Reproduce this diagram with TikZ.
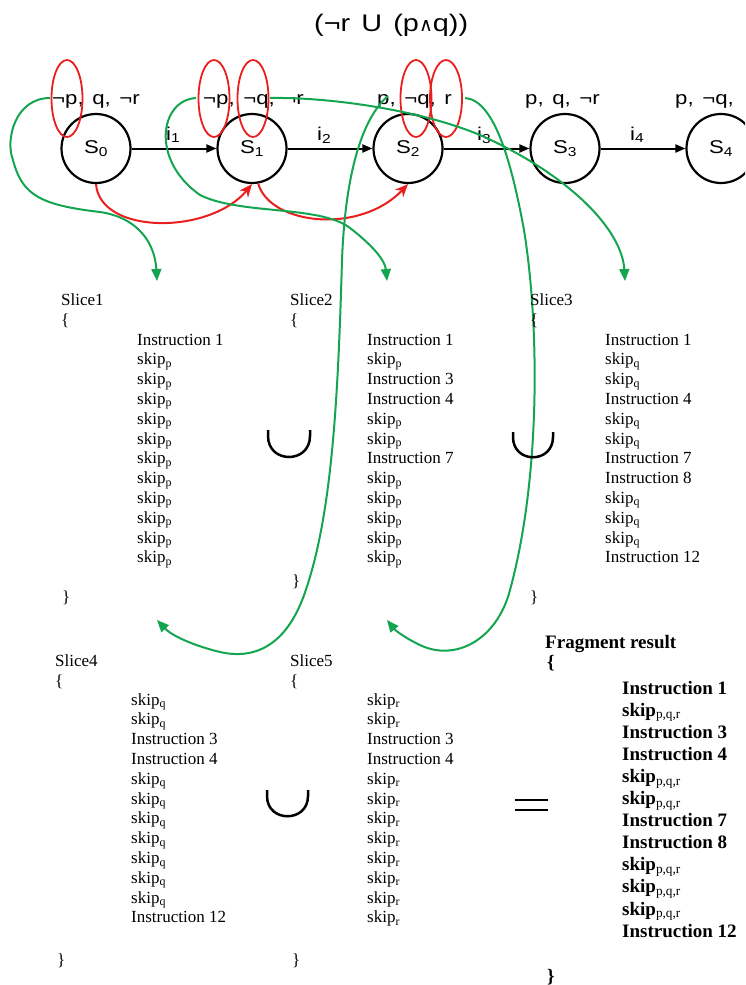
\documentclass[tikz,border=0pt]{standalone}
\usepackage{fontspec}
\usetikzlibrary{arrows.meta,shapes.geometric}
\newfontfamily\codefont{Liberation Serif}
\newfontfamily\labfont[FakeStretch=1.2,WordSpace=1.4]{Liberation Sans}
\newfontfamily\symfont[FakeStretch=1.0]{DejaVu Sans}
\definecolor{gr}{RGB}{20,165,80}
\definecolor{rd}{RGB}{235,30,30}
\newcommand{\skp}{skip\textsubscript{p}}
\newcommand{\skq}{skip\textsubscript{q}}
\newcommand{\skr}{skip\textsubscript{r}}
\newcommand{\skall}{skip\textsubscript{\mdseries p,q,r}}
\newcommand{\codecol}[6]{%
  \foreach \t [count=\i] in {#6} {
    \node[#5] (#1-\i) at (#2, {#3+(\i-1)*#4}) {\t};
  }%
}
\tikzset{
  state/.style={draw, circle, line width=2.2pt, minimum size=69pt, inner sep=0pt,
    font=\labfont\fontsize{18.5}{21}\selectfont},
  trans/.style={line width=2pt, -{Triangle[length=10pt,width=8pt]}},
  lab/.style={font=\labfont\fontsize{18.5}{21}\selectfont, anchor=base west, inner sep=0pt},
  oval/.style={draw=rd, ellipse, line width=1.8pt, minimum width=31pt, minimum height=77pt, inner sep=0pt},
  redarr/.style={draw=rd, line width=2pt, -{Stealth[length=13pt,width=11pt]}},
  grarr/.style={draw=gr, line width=2pt, -{Triangle[length=12pt,width=10pt]}},
  codetext/.style={font=\codefont\fontsize{17}{20}\selectfont, anchor=base west, inner sep=0pt},
  boldtext/.style={font=\codefont\bfseries\fontsize{19}{22}\selectfont, anchor=base west, inner sep=0pt},
  unionsym/.style={line width=2.5pt},
}
\begin{document}
\begin{tikzpicture}[x=1pt,y=-1pt]
\useasboundingbox (0,0) rectangle (745,985);
\clip (0,0) rectangle (745,985);
\fill[white] (0,0) rectangle (745,985);

% title
\node[lab, font=\labfont\fontsize{24}{27}\selectfont] (title) at (314,31)
  {(¬r U (p{\symfont\fontsize{19}{22}\selectfont ∧}q))};

% states
\node[state] (S0) at (96,148.5) {S\textsubscript{0}};
\node[state] (S1) at (252,148.5) {S\textsubscript{1}};
\node[state] (S2) at (408,148.5) {S\textsubscript{2}};
\node[state] (S3) at (565,148.5) {S\textsubscript{3}};
\node[state] (S4) at (721,148.5) {S\textsubscript{4}};

\draw[trans] (S0) -- (S1);
\draw[trans] (S1) -- (S2);
\draw[trans] (S2) -- (S3);
\draw[trans] (S3) -- (S4);

\node[lab] (i1) at (166,140) {i\textsubscript{1}};
\node[lab] (i2) at (317,140) {i\textsubscript{2}};
\node[lab] (i3) at (477,140) {i\textsubscript{3}};
\node[lab] (i4) at (630,140) {i\textsubscript{4}};

% proposition labels
\node[lab] (L0) at (52,104) {¬p, q, ¬r};
\node[lab] (L1) at (203,104) {¬p, ¬q, ¬r};
\node[lab] (L2) at (377,104) {p, ¬q, r};
\node[lab] (L3) at (525,104) {p, q, ¬r};
\node[lab] (L4) at (675,104) {p, ¬q,};

% red ovals
\node[oval] (E0) at (67,98.5) {};
\node[oval] (E1a) at (214,98.5) {};
\node[oval] (E1b) at (253,98.5) {};
\node[oval] (E2a) at (416,98.5) {};
\node[oval, minimum width=32pt] (E2b) at (446,98.5) {};

% red arrows
\draw[redarr] (S0.south) .. controls (100,235) and (210,235) .. (S1.south);
\draw[redarr] (S1.-80) .. controls (270,225) and (360,235) .. (S2.south);

% green arrow endpoints
\coordinate (g1s) at (50,98);
\coordinate (g2s) at (196,98);
\coordinate (g3s) at (270,98);
\coordinate (g4s) at (388,96);
\coordinate (g5s) at (465,98);
\coordinate (t1) at (157,281);
\coordinate (t2) at (387,281);
\coordinate (t3) at (625,281);
\coordinate (t4) at (157,620);
\coordinate (t5) at (387,620);

\draw[grarr] (g1s) .. controls (15,98) and (5,140) .. (13,160)
  .. controls (22,195) and (40,205) .. (100,212)
  .. controls (140,218) and (155,245) .. (t1);
\draw[grarr] (g2s) .. controls (160,100) and (150,160) .. (200,195)
  .. controls (240,215) and (320,205) .. (350,228)
  .. controls (372,245) and (385,260) .. (t2);
\draw[grarr] (g3s) .. controls (330,97) and (420,110) .. (480,135)
  .. controls (570,175) and (622,230) .. (t3);
\draw[grarr] (g4s) .. controls (360,120) and (345,180) .. (342,260)
  .. controls (338,400) and (332,520) .. (303,598)
  .. controls (285,645) and (255,660) .. (220,652)
  .. controls (195,646) and (172,636) .. (t4);
\draw[grarr] (g5s) .. controls (495,100) and (512,165) .. (524,230)
  .. controls (540,330) and (540,480) .. (510,590)
  .. controls (497,640) and (455,662) .. (420,645)
  .. controls (405,638) and (395,630) .. (t5);

% Slice 1
\node[codetext] (h1) at (61,305) {Slice1};
\node[codetext] (ob1) at (61,325) {\{};
\codecol{c1}{137}{345}{19.8}{codetext}{Instruction 1,\skp,\skp,\skp,\skp,\skp,\skp,\skp,\skp,\skp,\skp,\skp}
\node[codetext] (cb1) at (62,602) {\}};

% Slice 2
\node[codetext] (h2) at (290,305) {Slice2};
\node[codetext] (ob2) at (290,325) {\{};
\codecol{c2}{367}{345}{19.8}{codetext}{Instruction 1,\skp,Instruction 3,Instruction 4,\skp,\skp,Instruction 7,\skp,\skp,\skp,\skp,\skp}
\node[codetext] (cb2) at (292,586) {\}};

% Slice 3
\node[codetext] (h3) at (530,305) {Slice3};
\node[codetext] (ob3) at (530,325) {\{};
\codecol{c3}{605}{345}{19.8}{codetext}{Instruction 1,\skq,\skq,Instruction 4,\skq,\skq,Instruction 7,Instruction 8,\skq,\skq,\skq,Instruction 12}
\node[codetext] (cb3) at (530,602) {\}};

% Slice 4
\node[codetext] (h4) at (55,666) {Slice4};
\node[codetext] (ob4) at (55,686) {\{};
\codecol{c4}{131}{705}{19.8}{codetext}{\skq,\skq,Instruction 3,Instruction 4,\skq,\skq,\skq,\skq,\skq,\skq,\skq,Instruction 12}
\node[codetext] (cb4) at (57,965) {\}};

% Slice 5
\node[codetext] (h5) at (290,666) {Slice5};
\node[codetext] (ob5) at (290,686) {\{};
\codecol{c5}{367}{705}{19.8}{codetext}{\skr,\skr,Instruction 3,Instruction 4,\skr,\skr,\skr,\skr,\skr,\skr,\skr,\skr}
\node[codetext] (cb5) at (292,965) {\}};

% Fragment result
\node[boldtext] (h6) at (545,648) {Fragment result};
\node[boldtext] (ob6) at (547,668) {\{};
\codecol{c6}{622}{694}{22.1}{boldtext}{Instruction 1,{\skall},Instruction 3,Instruction 4,{\skall},{\skall},Instruction 7,Instruction 8,{\skall},{\skall},{\skall},Instruction 12}
\node[boldtext] (cb6) at (547,982) {\}};

% union and equals symbols
\draw[unionsym] (268,430) -- (268,436) .. controls (268,464) and (310,464) .. (310,436) -- (310,430);
\draw[unionsym] (513,432) -- (513,437) .. controls (513,464) and (553,464) .. (553,437) -- (553,432);
\draw[unionsym] (267,790) -- (267,796) .. controls (267,823) and (308,823) .. (308,796) -- (308,790);
\draw[line width=2.5pt] (515,800) -- (548,800);
\draw[line width=2.5pt] (515,810) -- (548,810);
\end{tikzpicture}
\end{document}
